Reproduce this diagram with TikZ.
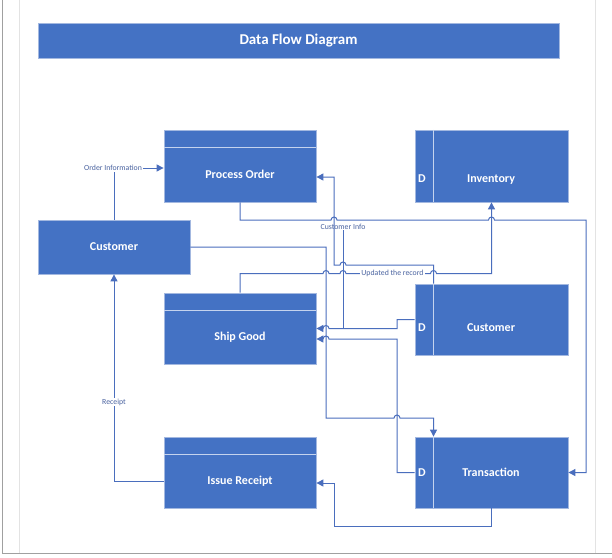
\documentclass[tikz,border=0pt]{standalone}
\usepackage{fontspec}
\setmainfont{Carlito}
\usetikzlibrary{arrows.meta}
\definecolor{boxblue}{HTML}{4472C4}
\definecolor{boxedge}{HTML}{A3B8E0}
\definecolor{hdrline}{HTML}{C5D3EE}
\definecolor{linkblue}{HTML}{4A6EBD}
\definecolor{lbltext}{HTML}{4A63A0}
\definecolor{framegray}{HTML}{A0A0A0}
\definecolor{marginline}{HTML}{E3E3E3}
\begin{document}
\begin{tikzpicture}[x=1pt,y=-1pt,
  box/.style={draw=boxedge,line width=0.8pt,fill=boxblue,inner sep=0pt,minimum width=152pt,minimum height=71pt},
  boxtext/.style={text=white,font=\fontsize{12}{14}\selectfont\bfseries,inner sep=0pt,text height=7.7pt,text depth=0pt},
  flow/.style={draw=linkblue,line width=1pt,-{Triangle[length=7pt,width=7pt]}},
  plain/.style={draw=linkblue,line width=1pt},
  lbl/.style={text=lbltext,font=\fontsize{7.8}{9}\selectfont,fill=white,inner sep=1pt},
  hdr/.style={draw=hdrline,line width=0.8pt}
]
\fill[white] (0,0) rectangle (612,557);
\useasboundingbox (0,0) rectangle (612,557);
% page frame
\draw[marginline,line width=0.8pt] (19,0) -- (19,553);
\draw[marginline,line width=0.8pt] (595,0) -- (595,553);
\draw[framegray,line width=1.5pt] (2.5,0) -- (2.5,553.5) -- (612,553.5);

% title
\node[box,minimum width=521pt,minimum height=35pt,text=white,font=\fontsize{15}{17}\selectfont\bfseries] (title) at (298.5,40.5) {Data Flow Diagram};

% boxes
\node[box,minimum height=72pt] (po) at (240,166) {};
\draw[hdr] ([yshift=-18pt]po.north west) -- ([yshift=-18pt]po.north east);
\node[boxtext] (potext) at (240,175) {Process Order};

\node[box,minimum height=54pt] (cl) at (114,247) {};
\node[boxtext] (cltext) at (114,247) {Customer};

\node[box,minimum width=153pt,minimum height=72pt] (inv) at (491.5,166) {};
\draw[hdr] ([xshift=18.5pt]inv.north west) -- ([xshift=18.5pt]inv.south west);
\node[boxtext] (invd) at (422,179) {D};
\node[boxtext] (invtext) at (491,179) {Inventory};

\node[box,minimum width=153pt] (cr) at (491.5,319.5) {};
\draw[hdr] ([xshift=18.5pt]cr.north west) -- ([xshift=18.5pt]cr.south west);
\node[boxtext] (crd) at (422,328) {D};
\node[boxtext] (crtext) at (491,328) {Customer};

\node[box] (sg) at (240,328.5) {};
\draw[hdr] ([yshift=-18pt]sg.north west) -- ([yshift=-18pt]sg.north east);
\node[boxtext] (sgtext) at (240,337) {Ship Good};

\node[box] (ir) at (240,472.5) {};
\draw[hdr] ([yshift=-18pt]ir.north west) -- ([yshift=-18pt]ir.north east);
\node[boxtext] (irtext) at (240,481) {Issue Receipt};

\node[box,minimum width=153pt] (tr) at (491.5,472.5) {};
\draw[hdr] ([xshift=18.5pt]tr.north west) -- ([xshift=18.5pt]tr.south west);
\node[boxtext] (trd) at (422,472.5) {D};
\node[boxtext] (trtext) at (491,472.5) {Transaction};

% connectors
\draw[flow] (cl.north) -- (114,168) -- ([yshift=-2pt]po.west);
\node[lbl] (oilbl) at (113,168) {Order Information};

\draw[flow] (po.south) -- (240,220) -- (331,220) arc[start angle=180,end angle=0,radius=3pt]
  -- (488.5,220) arc[start angle=180,end angle=0,radius=3pt] -- (586,220) -- (586,472.5) -- (tr.east);

\draw[flow] ([xshift=-58pt]cr.north) -- (433.5,265) -- (346,265) arc[start angle=0,end angle=180,radius=3pt]
  -- (334,265) -- (334,177) -- ([yshift=-11pt]po.east);

\node[lbl,fill=none] (cilbl) at (343,226.5) {Customer Info};
\draw[plain] (cilbl.south) -- (343,328.5);

\draw[flow] (cr.west) -- (397,319.5) -- (397,328.5) -- (329,328.5) arc[start angle=0,end angle=180,radius=3pt] -- (sg.east);

\draw[flow] (tr.west) -- (397,472.5) -- (397,339) -- (329,339) arc[start angle=0,end angle=180,radius=3pt] -- ([yshift=-10.5pt]sg.east);

\draw[flow] (cl.east) -- (326,247) -- (326,418) -- (394,418) arc[start angle=180,end angle=0,radius=3pt]
  -- (433.5,418) -- ([xshift=-58pt]tr.north);

\draw[flow] (sg.north) -- (240,273.5) -- (323,273.5) arc[start angle=180,end angle=0,radius=3pt]
  -- (340,273.5) arc[start angle=180,end angle=0,radius=3pt]
  -- (430.5,273.5) arc[start angle=180,end angle=0,radius=3pt] -- (491.5,273.5) -- (inv.south);
\node[lbl] (urlbl) at (392.5,273.5) {Updated the record};

\draw[flow] (tr.south) -- (491.5,526) -- (334,526) -- (334,483) -- ([yshift=-10.5pt]ir.east);

\draw[flow] ([yshift=-8.5pt]ir.west) -- (114,481) -- (cl.south);
\node[lbl] (rclbl) at (114,402) {Receipt};
\end{tikzpicture}
\end{document}
